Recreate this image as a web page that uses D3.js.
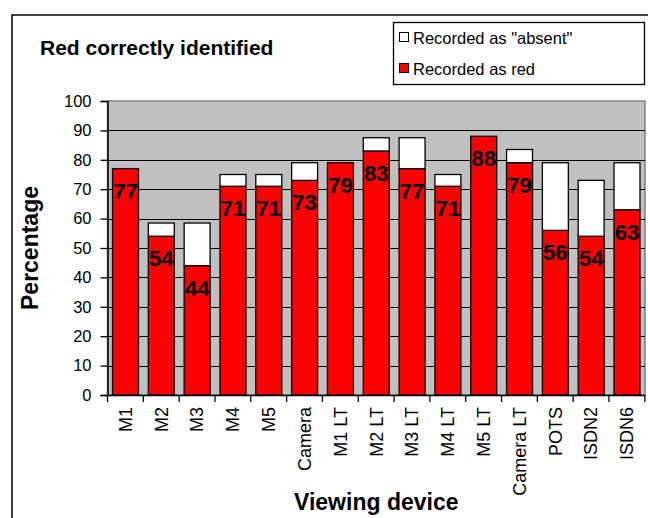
<!DOCTYPE html>
<html>
<head>
<meta charset="utf-8">
<script src="https://cdn.jsdelivr.net/npm/d3@7"></script>
<style>
  html, body { margin: 0; padding: 0; background: #fff; }
  svg { display: block; font-family: "Liberation Sans", Arial, sans-serif; }
</style>
</head>
<body>
<svg id="chart" width="648" height="518"></svg>
<script>
// Viewing devices along the x axis
const devices = ["M1", "M2", "M3", "M4", "M5", "Camera", "M1 LT", "M2 LT", "M3 LT",
                 "M4 LT", "M5 LT", "Camera LT", "POTS", "ISDN2", "ISDN6"];
// Percentage recorded as red (labelled on the bars)
const recordedRed = [77, 54, 44, 71, 71, 73, 79, 83, 77, 71, 88, 79, 56, 54, 63];
// Percentage recorded as "absent", stacked above the red part
const recordedAbsent = [0, 4.5, 14.5, 4, 4, 6, 0, 4.5, 10.5, 4, 0, 4.5, 23, 19, 16];
const yTicks = [0, 10, 20, 30, 40, 50, 60, 70, 80, 90, 100];

const FONT = "'Liberation Sans', Arial, sans-serif";
const svg = d3.select("#chart");
const m = { left: 107.5, right: 645, top: 101, bottom: 395 };

// Outer chart frame
svg.append("rect")
  .attr("x", 12).attr("y", 15).attr("width", 660).attr("height", 520)
  .attr("fill", "none").attr("stroke", "#000").attr("stroke-width", 1.5);

const x = d3.scaleBand().domain(devices).range([m.left, m.right]).paddingInner(0.275).paddingOuter(0.14);
const y = d3.scaleLinear().domain([0, 100]).range([m.bottom, m.top]);

// Plot area
svg.append("rect")
  .attr("x", m.left).attr("y", m.top)
  .attr("width", m.right - m.left).attr("height", m.bottom - m.top)
  .attr("fill", "#c0c0c0").attr("stroke", "#808080").attr("stroke-width", 1.5);

// Horizontal gridlines
svg.append("g").selectAll("line")
  .data(yTicks.filter(t => t > 0 && t < 100))
  .join("line")
  .attr("x1", m.left).attr("x2", m.right)
  .attr("y1", d => Math.round(y(d)) + 0.5).attr("y2", d => Math.round(y(d)) + 0.5)
  .attr("stroke", "#000").attr("stroke-width", 1);

// Stacked bars
const rows = devices.map((d, i) => ({ device: d, red: recordedRed[i], absent: recordedAbsent[i] }));
const stack = d3.stack().keys(["red", "absent"])(rows);
const fills = { red: "#ff0000", absent: "#ffffff" };

svg.append("g").selectAll("g")
  .data(stack)
  .join("g")
  .attr("fill", d => fills[d.key])
  .selectAll("rect")
  .data(d => d.filter(p => p[1] - p[0] > 0).map(p => ({ p, key: d.key })))
  .join("rect")
  .attr("x", d => x(d.p.data.device))
  .attr("width", x.bandwidth())
  .attr("y", d => y(d.p[1]))
  .attr("height", d => y(d.p[0]) - y(d.p[1]))
  .attr("stroke", "#000").attr("stroke-width", 1.3);

// Value labels inside the top of each red bar
svg.append("g").selectAll("text")
  .data(rows)
  .join("text")
  .attr("x", d => x(d.device) + x.bandwidth() / 2)
  .attr("y", d => y(d.red) + 30)
  .attr("text-anchor", "middle")
  .attr("font-size", 22).attr("font-weight", "bold").attr("fill", "#000")
  .text(d => d.red);

// Y axis
const yAxis = svg.append("g")
  .attr("transform", `translate(${m.left},0)`)
  .call(d3.axisLeft(y).tickValues(yTicks).tickSize(7).tickPadding(9));
yAxis.select(".domain").attr("stroke", "#000").attr("stroke-width", 1.5);
yAxis.selectAll(".tick line").attr("stroke", "#000").attr("stroke-width", 1.3);
yAxis.selectAll(".tick text").attr("font-size", 16.5).attr("fill", "#000")
  .attr("font-family", FONT);

// X axis with rotated labels
const xAxis = svg.append("g")
  .attr("transform", `translate(0,${m.bottom})`)
  .call(d3.axisBottom(x).tickSize(0).tickPadding(0));
xAxis.select(".domain").attr("stroke", "#000").attr("stroke-width", 1.5);
xAxis.selectAll(".tick text")
  .attr("font-size", 18).attr("fill", "#000")
  .attr("font-family", FONT)
  .attr("transform", "rotate(-90)")
  .attr("text-anchor", "end")
  .attr("x", -12).attr("y", 0).attr("dy", "0.35em");

// Tick marks between categories
const bounds = d3.range(devices.length + 1).map(i => m.left + i * x.step());
svg.append("g").selectAll("line")
  .data(bounds)
  .join("line")
  .attr("x1", d => d).attr("x2", d => d)
  .attr("y1", m.bottom).attr("y2", m.bottom + 7)
  .attr("stroke", "#000").attr("stroke-width", 1.3);

// Titles
svg.append("text")
  .attr("x", 40).attr("y", 54.5)
  .attr("font-size", 21).attr("font-weight", "bold")
  .text("Red correctly identified");

svg.append("text")
  .attr("x", (m.left + m.right) / 2).attr("y", 510)
  .attr("text-anchor", "middle")
  .attr("font-size", 23).attr("font-weight", "bold")
  .text("Viewing device");

svg.append("text")
  .attr("transform", `translate(38,${(m.top + m.bottom) / 2}) rotate(-90)`)
  .attr("text-anchor", "middle")
  .attr("font-size", 23).attr("font-weight", "bold")
  .text("Percentage");

// Legend
const lg = svg.append("g");
lg.append("rect")
  .attr("x", 393.5).attr("y", 22.5).attr("width", 251).attr("height", 62)
  .attr("fill", "#fff").attr("stroke", "#000").attr("stroke-width", 1.3);
const legendItems = [
  { label: "Recorded as \"absent\"", fill: "#ffffff", y: 38 },
  { label: "Recorded as red", fill: "#ff0000", y: 69 }
];
lg.selectAll("rect.key")
  .data(legendItems)
  .join("rect")
  .attr("class", "key")
  .attr("x", 399.5).attr("y", d => d.y - 5.5)
  .attr("width", 9).attr("height", 9)
  .attr("fill", d => d.fill).attr("stroke", "#000").attr("stroke-width", 1);
lg.selectAll("text")
  .data(legendItems)
  .join("text")
  .attr("x", 413).attr("y", d => d.y + 6)
  .attr("font-size", 16.5)
  .text(d => d.label);
</script>
</body>
</html>
